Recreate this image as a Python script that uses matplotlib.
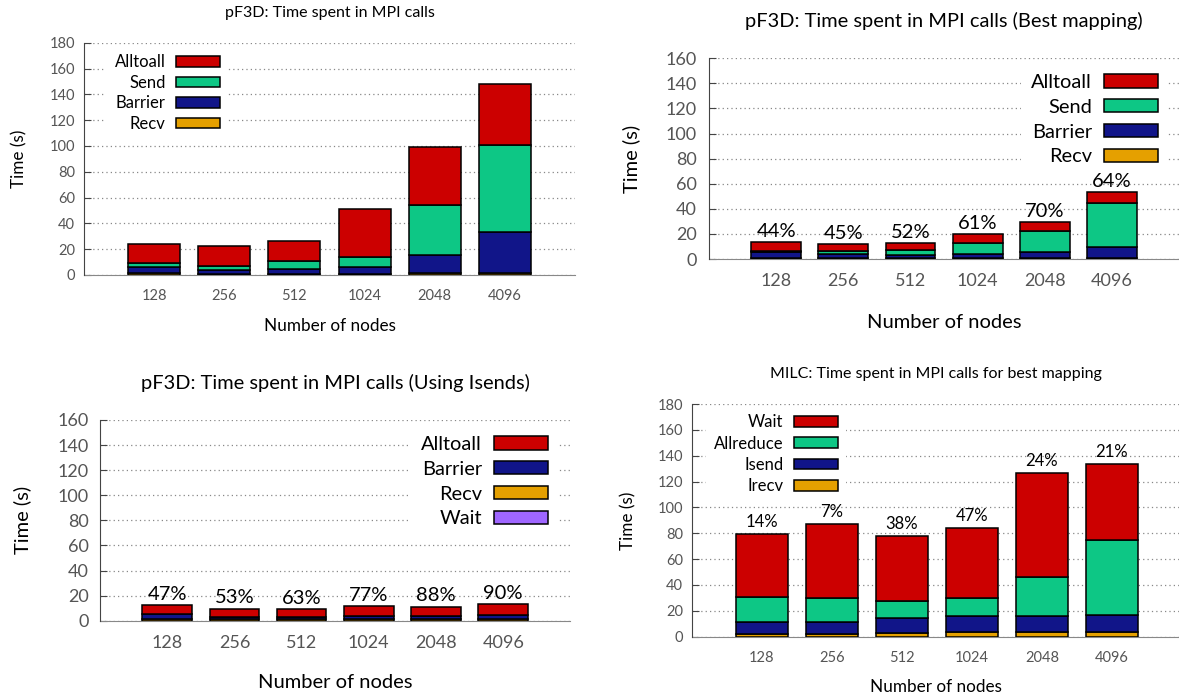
import matplotlib
matplotlib.use('Agg')
import matplotlib.pyplot as plt
from matplotlib.patches import Patch

W, H = 1179, 698
plt.rcParams['font.family'] = ['Lato', 'DejaVu Sans']

nodes = ['128', '256', '512', '1024', '2048', '4096']

# Panel 1: pF3D time spent in MPI calls
p1_recv = [1.3, 0.8, 1.0, 1.0, 1.5, 1.5]
p1_barrier = [4.9, 3.1, 3.7, 5.2, 14.2, 31.5]
p1_send = [2.9, 2.9, 6.5, 8.1, 38.2, 67.6]
p1_alltoall = [14.8, 15.3, 14.8, 37.0, 44.9, 47.2]

# Panel 2: pF3D best mapping
p2_recv = [0.8, 1.0, 0.8, 0.5, 0.5, 0.5]
p2_barrier = [4.8, 3.3, 2.1, 3.2, 5.1, 9.3]
p2_send = [0.8, 1.9, 4.3, 8.8, 16.7, 34.9]
p2_alltoall = [6.9, 5.5, 5.3, 7.4, 6.9, 8.5]
p2_pct = ['44%', '45%', '52%', '61%', '70%', '64%']

# Panel 3: pF3D using Isends
p3_wait = [0, 0, 0, 0, 0, 0]
p3_recv = [1.0, 1.0, 1.0, 1.0, 1.0, 1.0]
p3_barrier = [4.3, 2.2, 2.2, 2.7, 2.7, 3.3]
p3_alltoall = [6.9, 6.4, 5.8, 7.7, 7.5, 8.7]
p3_pct = ['47%', '53%', '63%', '77%', '88%', '90%']

# Panel 4: MILC best mapping
p4_irecv = [2.3, 2.3, 3.1, 3.6, 3.6, 3.6]
p4_isend = [9.1, 9.1, 11.1, 12.4, 12.4, 13.2]
p4_allreduce = [19.6, 18.3, 13.4, 14.0, 30.5, 57.8]
p4_wait = [48.3, 57.3, 50.1, 53.9, 79.8, 58.9]
p4_pct = ['14%', '7%', '38%', '47%', '24%', '21%']

RED = '#CC0000'
GREEN = '#0DC785'
BLUE = '#111589'
ORANGE = '#E5A000'
PURPLE = '#9F66FF'
TICKC = '#555555'

fig = plt.figure(figsize=(W / 100, H / 100), dpi=100)


def px_axes(left, right, top, bottom):
    return fig.add_axes([left / W, 1 - bottom / H, (right - left) / W, (bottom - top) / H])


def panel(box, ymax, xmax, series, legend_items, title, title_px,
          fs_tick, fs_label, fs_title, ytick_pad_px, xtick_pad_px,
          ylabel_px, xlabel_px, legend_px, leg_fs, leg_hl, leg_hh, leg_ls,
          pct=None, pct_fs=12, pct_off=11):
    left, right, top, bottom = box
    ax = px_axes(left, right, top, bottom)
    wpx = right - left
    hpx = bottom - top
    x = list(range(len(nodes)))
    base = [0.0] * len(nodes)
    for vals, color in series:
        ax.bar(x, vals, width=0.74, bottom=base, color=color, edgecolor='black',
               linewidth=1.1, zorder=3)
        base = [b + v for b, v in zip(base, vals)]
    ax.set_xlim(-1, xmax)
    ax.set_ylim(0, ymax)
    ax.set_yticks(range(0, ymax + 1, 20))
    ax.set_xticks(x)
    ax.set_xticklabels(nodes)
    ax.grid(axis='y', linestyle=(0, (1, 2.5)), color='#888888', linewidth=0.9, zorder=0)
    ax.set_axisbelow(True)
    for s in ['top', 'right']:
        ax.spines[s].set_visible(False)
    ax.spines['left'].set_color('#444444')
    ax.spines['bottom'].set_color('#888888')
    ax.spines['left'].set_zorder(4)
    ax.tick_params(axis='y', direction='in', length=5, color='#444444',
                   labelsize=fs_tick, labelcolor=TICKC, pad=ytick_pad_px * 0.72)
    ax.tick_params(axis='x', length=0, labelsize=fs_tick, labelcolor=TICKC,
                   pad=xtick_pad_px * 0.72)
    ax.set_ylabel('Time (s)', fontsize=fs_label, va='center')
    ax.yaxis.set_label_coords((ylabel_px - left) / wpx, 0.5)
    ax.set_xlabel('Number of nodes', fontsize=fs_label, va='center')
    ax.xaxis.set_label_coords(0.5, -(xlabel_px - bottom) / hpx)
    ax.text(0.5, (bottom - title_px) / hpx, title, transform=ax.transAxes,
            ha='center', va='center', fontsize=fs_title)
    if pct is not None:
        for xi, top_v, lab in zip(x, base, pct):
            ax.annotate(lab, (xi, top_v), xytext=(0, pct_off * 0.72),
                        textcoords='offset points', ha='center', va='center',
                        fontsize=pct_fs, zorder=7)
    handles = [Patch(facecolor=c, edgecolor='black', linewidth=1.1) for _, c in legend_items]
    labels = [l for l, _ in legend_items]
    lx, ly = legend_px
    leg = ax.legend(handles, labels, loc='upper right', markerfirst=False,
                    bbox_to_anchor=(lx / W, 1 - ly / H), bbox_transform=fig.transFigure,
                    borderaxespad=0, borderpad=0.5, fontsize=leg_fs,
                    handlelength=leg_hl, handleheight=leg_hh, labelspacing=leg_ls,
                    handletextpad=0.6, frameon=True, fancybox=False,
                    facecolor='white', edgecolor='none', framealpha=1.0)
    leg.set_zorder(5)
    return ax


panel((84, 575, 42.7, 275), 180, 6,
      [(p1_recv, ORANGE), (p1_barrier, BLUE), (p1_send, GREEN), (p1_alltoall, RED)],
      [('Alltoall', RED), ('Send', GREEN), ('Barrier', BLUE), ('Recv', ORANGE)],
      'pF3D: Time spent in MPI calls', 13,
      10.5, 12.3, 11.5, 9, 14, 19, 326, (228, 46), 12, 2.65, 0.6, 0.27)

panel((709, 1179.2, 58.3, 259), 160, 6,
      [(p2_recv, ORANGE), (p2_barrier, BLUE), (p2_send, GREEN), (p2_alltoall, RED)],
      [('Alltoall', RED), ('Send', GREEN), ('Barrier', BLUE), ('Recv', ORANGE)],
      'pF3D: Time spent in MPI calls (Best mapping)', 21,
      13, 14.5, 14.4, 12, 14, 631, 323, (1168, 64), 14.4, 2.7, 0.63, 0.39,
      pct=p2_pct, pct_fs=14.5, pct_off=11)

panel((100, 570.4, 420, 620.7), 160, 6,
      [(p3_wait, PURPLE), (p3_recv, ORANGE), (p3_barrier, BLUE), (p3_alltoall, RED)],
      [('Alltoall', RED), ('Barrier', BLUE), ('Recv', ORANGE), ('Wait', PURPLE)],
      'pF3D: Time spent in MPI calls (Using Isends)', 383,
      13, 14.5, 14.4, 11, 14, 22, 683, (558, 426), 14.4, 2.7, 0.63, 0.39,
      pct=p3_pct, pct_fs=14.5, pct_off=11)

panel((692, 1179, 404, 636.7), 180, 5.96,
      [(p4_irecv, ORANGE), (p4_isend, BLUE), (p4_allreduce, GREEN), (p4_wait, RED)],
      [('Wait', RED), ('Allreduce', GREEN), ('Isend', BLUE), ('Irecv', ORANGE)],
      'MILC: Time spent in MPI calls for best mapping', 374,
      10.5, 12.3, 11.5, 9, 14, 628, 687, (846, 406), 12, 2.65, 0.6, 0.32,
      pct=p4_pct, pct_fs=12, pct_off=12)

fig.savefig('out.png', dpi=100)
